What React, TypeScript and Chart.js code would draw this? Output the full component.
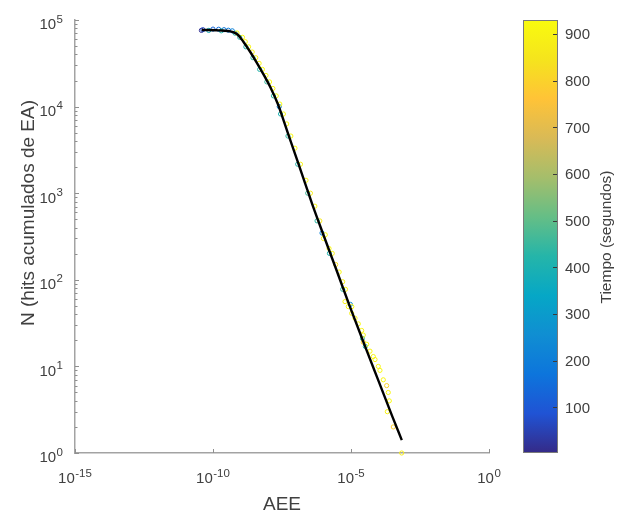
import React, { useEffect, useRef } from "react";
import { Chart, registerables } from "chart.js";

Chart.register(...registerables);

// ---------------- data ----------------
// Fitted curve (black line): AEE vs N
const fitAEE = [3.89e-11, 1.58e-10, 5.01e-10, 7.94e-10, 1.26e-9, 2.24e-9, 3.98e-9, 7.08e-9, 1.26e-8, 2.24e-8, 3.98e-8, 7.94e-8, 2.0e-7, 4.17e-7, 1.0e-6, 3.16e-6, 9.12e-6, 3.16e-5, 1.0e-4, 3.16e-4, 6.92e-4];
const fitN = [76700, 75900, 72800, 67600, 56200, 42700, 31600, 22900, 16200, 10700, 6310, 3310, 1410, 708, 331, 123, 49.0, 17.4, 6.76, 2.63, 1.41];

// Scatter points (cumulative AE hits), ordered by time
const aee = [
  3.8e-11, 4.3e-11, 1.0e-10, 1.6e-10, 2.5e-10, 3.6e-10, 5.0e-10, 2.51e-8, 8.91e-7, 9.5e-6,
  7.0e-11, 2.0e-10, 6.3e-10, 9.3e-10, 1.55e-9, 2.8e-9, 4.9e-9, 8.9e-9, 1.55e-8, 2.8e-8, 5.2e-8, 1.17e-7, 2.7e-7, 5.9e-7, 1.65e-6, 5.0e-6, 2.6e-5, 3.3e-5,
  7.41e-10, 1.17e-9, 1.48e-9, 1.95e-9, 2.63e-9, 3.55e-9, 4.68e-9, 6.17e-9, 8.32e-9, 1.12e-8, 1.48e-8, 1.95e-8, 2.63e-8, 3.55e-8, 4.68e-8, 6.61e-8, 9.33e-8, 1.48e-7, 2.34e-7, 3.39e-7, 4.9e-7, 7.41e-7, 1.0e-6, 1.17e-6, 1.6e-6, 2.09e-6, 2.8e-6, 3.72e-6, 5.0e-6, 6.31e-6, 1.07e-5,
  6.07e-6, 7.98e-6, 1.06e-5, 1.4e-5, 1.84e-5, 2.44e-5, 2.79e-5, 2.79e-5, 3.71e-5, 4.88e-5, 6.43e-5, 7.41e-5, 9.75e-5, 1.12e-4, 1.48e-4, 1.96e-4, 2.24e-4, 2.44e-4, 2.07e-4, 3.41e-4, 6.87e-4,
];
const hits = [
  75900, 77300, 78500, 78200, 77300, 76200, 75000, 10000, 347, 52,
  75800, 75000, 70500, 63100, 49000, 36700, 26900, 19300, 13300, 8220, 4570, 2160, 1000, 479, 202, 77.6, 21, 17,
  70800, 63100, 56200, 49000, 42700, 36700, 31600, 26900, 22900, 19300, 16200, 13300, 10700, 8220, 6310, 4570, 3310, 2160, 1410, 1000, 708, 479, 300, 331, 230, 202, 150, 123, 95, 77.6, 49.0,
  56, 49, 41, 36, 31, 26, 23, 19, 18, 15, 13, 12, 10, 9, 7, 6, 5, 4, 3, 2, 1,
];
const tiempo = [
  15, 70, 130, 150, 170, 190, 210, 200, 220, 250,
  380, 420, 400, 430, 410, 440, 420, 450, 430, 400, 440, 420, 460, 430, 410, 440, 450, 430,
  920, 910, 925, 900, 915, 930, 905, 920, 910, 925, 900, 915, 930, 905, 920, 910, 925, 900, 915, 880, 920, 860, 900, 925, 910, 890, 820, 915, 880, 905, 920,
  900, 910, 895, 905, 915, 900, 910, 790, 920, 905, 915, 900, 910, 920, 905, 800, 915, 925, 900, 790, 880,
];

// Axis ticks
const xTickValues = [1e-15, 1e-10, 1e-5, 1];
const xTickExps = ["-15", "-10", "-5", "0"];
const yTickValues = [1, 10, 100, 1000, 10000, 100000];
const yTickExps = ["0", "1", "2", "3", "4", "5"];
const cbTicks = [100, 200, 300, 400, 500, 600, 700, 800, 900];
const tiempoMin = 2;
const tiempoMax = 930;

// ---------------- styles ----------------
const FONT = '"Liberation Sans", Arial, Helvetica, sans-serif';
const TEXT = "#404040";
const AXIS = "#a3a3a3";

const PARULA: number[][] = [
  [53, 42, 135], [32, 83, 212], [13, 117, 220], [16, 142, 210], [6, 167, 198], [37, 181, 169],
  [101, 190, 134], [165, 190, 107], [217, 186, 86], [255, 195, 55], [245, 228, 29], [249, 251, 14],
];

function parula(t: number): string {
  let f = (t - tiempoMin) / (tiempoMax - tiempoMin);
  f = Math.max(0, Math.min(1, f));
  const p = f * (PARULA.length - 1);
  const i = Math.min(PARULA.length - 2, Math.floor(p));
  const r = p - i;
  const a = PARULA[i], b = PARULA[i + 1];
  const c = a.map((v, k) => Math.round(v + (b[k] - v) * r));
  return `rgb(${c[0]},${c[1]},${c[2]})`;
}

function drawPow(ctx: CanvasRenderingContext2D, exp: string, x: number, baseY: number, expY: number, align: "center" | "right") {
  ctx.font = `15px ${FONT}`;
  const wb = ctx.measureText("10").width;
  ctx.font = `11.5px ${FONT}`;
  const we = ctx.measureText(exp).width;
  const total = wb + we + 0.5;
  const left = align === "center" ? x - total / 2 : x - total;
  ctx.textAlign = "left";
  ctx.textBaseline = "alphabetic";
  ctx.font = `15px ${FONT}`;
  ctx.fillText("10", left, baseY);
  ctx.font = `11.5px ${FONT}`;
  ctx.fillText(exp, left + wb + 0.5, expY);
}

const decorPlugin = {
  id: "decor",
  afterDraw(chart: any) {
    const { ctx, chartArea: ca, scales } = chart;
    const xs = scales.x, ys = scales.y, tc = scales.tc;
    ctx.save();

    // inward ticks
    ctx.strokeStyle = "#8f8f8f";
    ctx.lineWidth = 1;
    ctx.beginPath();
    yTickValues.forEach((v, i) => {
      const y = Math.round(ys.getPixelForValue(v)) + 0.5;
      ctx.moveTo(ca.left, y);
      ctx.lineTo(ca.left + 4, y);
      if (i < yTickValues.length - 1) {
        for (let m = 2; m <= 9; m++) {
          const ym = Math.round(ys.getPixelForValue(v * m)) + 0.5;
          ctx.moveTo(ca.left, ym);
          ctx.lineTo(ca.left + 2.5, ym);
        }
      }
    });
    xTickValues.forEach((v) => {
      const x = Math.round(xs.getPixelForValue(v)) + 0.5;
      ctx.moveTo(x, ca.bottom);
      ctx.lineTo(x, ca.bottom - 4);
    });
    ctx.stroke();

    // tick labels
    ctx.fillStyle = TEXT;
    yTickValues.forEach((v, i) => {
      const y = ys.getPixelForValue(v);
      drawPow(ctx, yTickExps[i], 63, y + 9.4, y + 2.6, "right");
    });
    xTickValues.forEach((v, i) => {
      const x = xs.getPixelForValue(v);
      drawPow(ctx, xTickExps[i], x, ca.bottom + 30, ca.bottom + 24, "center");
    });

    // axis titles
    ctx.font = `19px ${FONT}`;
    ctx.textAlign = "center";
    ctx.textBaseline = "alphabetic";
    ctx.fillText("AEE", (ca.left + ca.right) / 2, 510);
    ctx.save();
    ctx.translate(29, 213);
    ctx.rotate(-Math.PI / 2);
    ctx.textBaseline = "middle";
    ctx.fillText("N (hits acumulados de EA)", 0, 0);
    ctx.restore();

    // colorbar
    const x0 = 523, x1 = 558;
    const top = tc.getPixelForValue(tiempoMax);
    const bottom = tc.getPixelForValue(tiempoMin);
    const g = ctx.createLinearGradient(0, bottom, 0, top);
    PARULA.forEach((c, i) => g.addColorStop(i / (PARULA.length - 1), `rgb(${c[0]},${c[1]},${c[2]})`));
    ctx.fillStyle = g;
    ctx.fillRect(x0, top, x1 - x0, bottom - top);
    ctx.strokeStyle = "#7a7a7a";
    ctx.lineWidth = 1;
    ctx.strokeRect(x0 + 0.5, Math.round(top) + 0.5, x1 - x0 - 1, Math.round(bottom - top) - 1);
    ctx.strokeStyle = "#3a3a3a";
    ctx.beginPath();
    cbTicks.forEach((v) => {
      const y = Math.round(tc.getPixelForValue(v)) + 0.5;
      ctx.moveTo(x1 - 5, y);
      ctx.lineTo(x1 - 1, y);
    });
    ctx.stroke();
    ctx.fillStyle = TEXT;
    ctx.font = `15px ${FONT}`;
    ctx.textAlign = "left";
    ctx.textBaseline = "alphabetic";
    cbTicks.forEach((v) => {
      const y = tc.getPixelForValue(v);
      ctx.fillText(String(v), 565, y + 5.4);
    });
    ctx.save();
    ctx.translate(607, 237);
    ctx.rotate(-Math.PI / 2);
    ctx.textAlign = "center";
    ctx.textBaseline = "middle";
    ctx.font = `15.5px ${FONT}`;
    ctx.fillText("Tiempo (segundos)", 0, 0);
    ctx.restore();

    ctx.restore();
  },
};

export default function App() {
  const ref = useRef<HTMLCanvasElement | null>(null);

  useEffect(() => {
    if (!ref.current) return;
    const chart = new Chart(ref.current, {
      type: "scatter",
      data: {
        datasets: [
          {
            type: "line",
            label: "Ajuste",
            data: fitAEE.map((x, i) => ({ x, y: fitN[i] })),
            borderColor: "#000000",
            borderWidth: 2.4,
            pointRadius: 0,
            fill: false,
            cubicInterpolationMode: "monotone",
            order: 0,
          } as any,
          {
            type: "scatter",
            label: "Hits",
            data: aee.map((x, i) => ({ x, y: hits[i] })),
            pointRadius: 2.1,
            pointBorderWidth: 1,
            pointBackgroundColor: "rgba(0,0,0,0)",
            pointBorderColor: (c: any) => parula(tiempo[c.dataIndex] ?? 900),
            clip: false,
            order: 1,
          } as any,
        ],
      },
      options: {
        responsive: false,
        animation: false,
        devicePixelRatio: 1,
        layout: { padding: { left: 0, top: 20, right: 129, bottom: 0 } },
        plugins: { legend: { display: false }, tooltip: { enabled: false } },
        events: [],
        scales: {
          x: {
            type: "logarithmic",
            min: 1e-15,
            max: 1,
            ticks: { display: false },
            grid: { display: false },
            border: { color: AXIS, width: 1.5 },
            afterFit: (s: any) => { s.height = 60; },
          },
          y: {
            type: "logarithmic",
            min: 1,
            max: 100000,
            ticks: { display: false },
            grid: { display: false },
            border: { color: AXIS, width: 1.5 },
            afterFit: (s: any) => { s.width = 75; },
          },
          tc: {
            type: "linear",
            position: "right",
            display: false,
            min: tiempoMin,
            max: tiempoMax,
          },
        },
      } as any,
      plugins: [decorPlugin],
    });
    return () => chart.destroy();
  }, []);

  return (
    <div style={{ position: "absolute", left: 0, top: 0, width: 618, height: 513, background: "#ffffff" }}>
      <canvas ref={ref} width={618} height={513} style={{ display: "block" }} />
    </div>
  );
}
